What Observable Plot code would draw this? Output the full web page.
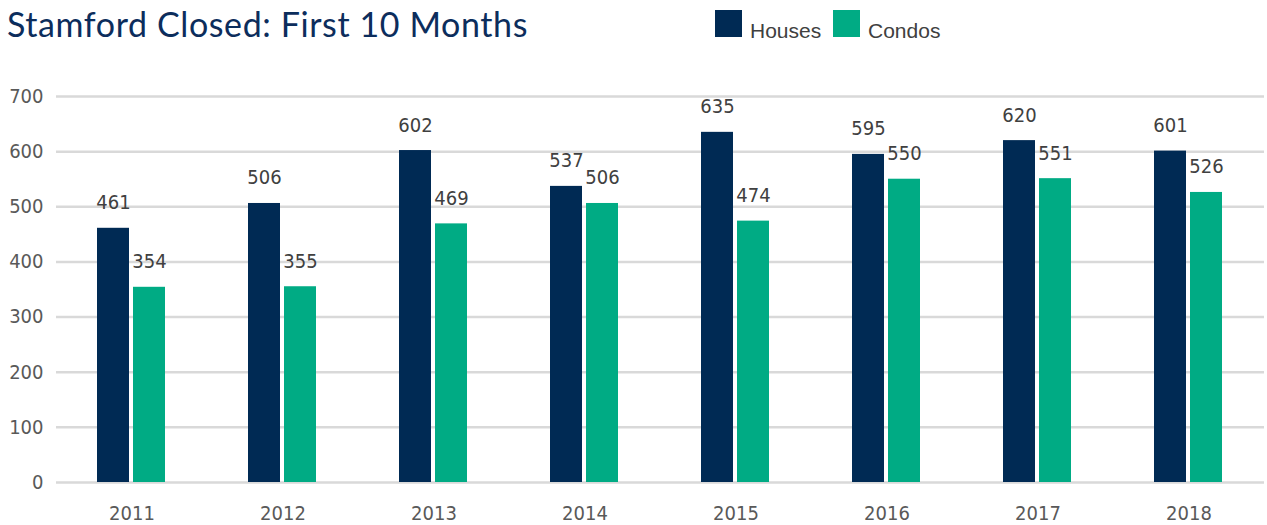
<!DOCTYPE html>
<html>
<head>
<meta charset="utf-8">
<script src="https://cdn.jsdelivr.net/npm/d3@7"></script>
<script src="https://cdn.jsdelivr.net/npm/@observablehq/plot@0.6"></script>
<style>
  html, body { margin: 0; padding: 0; background: #fff; }
  #wrap { width: 1267px; height: 525px; overflow: hidden; }
  #header { position: relative; width: 1267px; height: 60px; }
  #title { position: absolute; left: 7px; top: 3px; font-family: Lato, "Open Sans", sans-serif; font-size: 34px; color: #0c2d5c; white-space: nowrap; letter-spacing: 0.6px; }
  .leg { position: absolute; top: 10px; height: 27px; display: flex; align-items: flex-end; font-family: "Liberation Sans", Arial, sans-serif; font-size: 21px; line-height: 21px; color: #404040; }
  .sw { width: 27px; height: 27px; margin-right: 8px; }
  .lt { position: relative; top: 4px; }
  svg { display: block; }
</style>
</head>
<body>
<div id="wrap">
  <div id="header">
    <div id="title">Stamford Closed: First 10 Months</div>
    <div class="leg" id="leg0" style="left:715px"></div>
    <div class="leg" id="leg1" style="left:833px"></div>
  </div>
  <div id="chart"></div>
</div>
<script>
const years = [2011, 2012, 2013, 2014, 2015, 2016, 2017, 2018];
const series = ["Houses", "Condos"];
const houses = [461, 506, 602, 537, 635, 595, 620, 601];
const condos = [354, 355, 469, 506, 474, 550, 551, 526];
const colors = ["#002a54", "#00ab84"];
const yTicks = [0, 100, 200, 300, 400, 500, 600, 700];

const data = years.flatMap((yr, i) => [
  {year: yr, type: series[0], value: houses[i]},
  {year: yr, type: series[1], value: condos[i]}
]);

series.forEach((s, i) => {
  const el = document.getElementById("leg" + i);
  const sw = document.createElement("div");
  sw.className = "sw";
  sw.style.background = colors[i];
  el.appendChild(sw);
  const t = document.createElement("span");
  t.className = "lt";
  t.textContent = s;
  el.appendChild(t);
});

const narrow = "'Liberation Sans Narrow', 'DejaVu Sans Condensed', sans-serif";

const chart = Plot.plot({
  width: 1267,
  height: 465,
  marginLeft: 52,
  marginRight: 0,
  marginTop: 36,
  marginBottom: 43,
  style: {fontFamily: narrow, background: "#fff"},
  fx: {domain: years, padding: 0, label: null},
  x: {domain: series, paddingInner: 0.11, paddingOuter: 1.1, axis: null},
  y: {domain: [0, 700], label: null},
  color: {domain: series, range: colors},
  marks: [
    Plot.gridY(yTicks, {stroke: "#d9d9d9", strokeOpacity: 1, strokeWidth: 2.5}),
    Plot.axisY(yTicks, {tickSize: 0, tickPadding: 13, fontSize: 20, fill: "#595959", label: null, tickFormat: d => String(d)}),
    Plot.axisFx({anchor: "bottom", tickSize: 0, tickPadding: 23, fontSize: 20, fill: "#595959", label: null, tickFormat: d => String(d)}),
    Plot.barY(data, {fx: "year", x: "type", y: "value", fill: "type"}),
    Plot.text(data, {fx: "year", x: "type", y: "value", text: d => String(d.value), dy: -19, lineAnchor: "bottom", fontSize: 20, fill: "#404040"})
  ]
});
document.getElementById("chart").appendChild(chart);
</script>
</body>
</html>
